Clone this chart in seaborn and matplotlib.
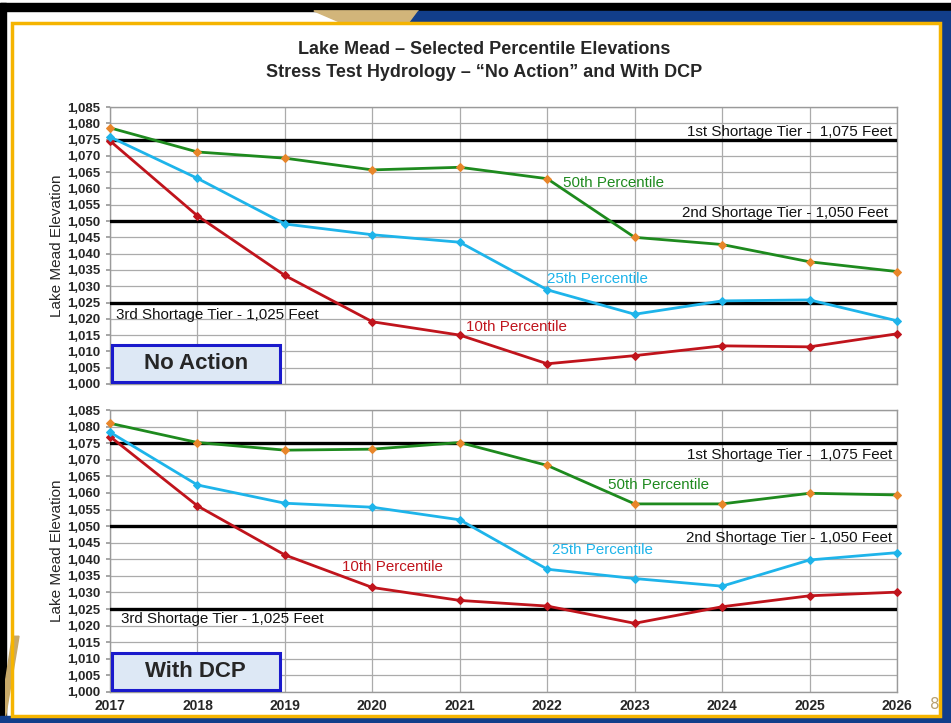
import numpy as np
import pandas as pd
import seaborn as sns
import matplotlib.pyplot as plt
from matplotlib.patches import Rectangle, Polygon
from matplotlib.ticker import FuncFormatter, MultipleLocator

# values (feet)
years = list(range(2017, 2027))
no_action_p50 = [1078.6, 1071.2, 1069.3, 1065.7, 1066.5, 1063.0, 1045.0, 1042.8, 1037.5, 1034.5]
no_action_p25 = [1075.8, 1063.1, 1049.1, 1045.8, 1043.5, 1028.9, 1021.4, 1025.5, 1025.8, 1019.4]
no_action_p10 = [1074.6, 1051.6, 1033.3, 1019.1, 1015.0, 1006.2, 1008.7, 1011.7, 1011.4, 1015.4]
dcp_p50 = [1081.0, 1075.2, 1072.9, 1073.2, 1075.2, 1068.3, 1056.7, 1056.7, 1059.9, 1059.4]
dcp_p25 = [1078.3, 1062.4, 1056.9, 1055.7, 1051.9, 1037.0, 1034.2, 1031.9, 1039.8, 1042.0]
dcp_p10 = [1077.0, 1056.1, 1041.3, 1031.5, 1027.6, 1025.9, 1020.7, 1025.7, 1029.0, 1030.1]

tiers = [1075, 1050, 1025]
tier_labels = ['1st Shortage Tier -  1,075 Feet', '2nd Shortage Tier - 1,050 Feet',
               '3rd Shortage Tier - 1,025 Feet']
percentile_labels = ['50th Percentile', '25th Percentile', '10th Percentile']

GREEN = '#1E8A1E'
ORANGE = '#E8862A'
BLUE = '#1EB4EA'
RED = '#C0141C'

sns.set_theme(style='whitegrid')
plt.rcParams['font.family'] = ['Liberation Sans Narrow', 'Liberation Sans', 'DejaVu Sans']

fig = plt.figure(figsize=(9.51, 7.23), dpi=100)
fig.patch.set_facecolor('white')

# slide decoration
fig.patches.append(Rectangle((0, 0), 0.006, 0.996, transform=fig.transFigure, color='black', zorder=0))
fig.patches.append(Rectangle((0, 0.985), 1, 0.011, transform=fig.transFigure, color='black', zorder=0))
fig.patches.append(Polygon([(0.33, 0.985), (0.44, 0.985), (0.43, 0.968), (0.36, 0.968)],
                           closed=True, transform=fig.transFigure, color='#D2B57A', zorder=0))
fig.patches.append(Polygon([(0.44, 0.985), (1, 0.985), (1, 0), (0.988, 0), (0.988, 0.968), (0.43, 0.968)],
                           closed=True, transform=fig.transFigure, color='#123E8A', zorder=0))
fig.patches.append(Polygon([(0, 0), (0.988, 0), (0.988, 0.01), (0.0, 0.01)],
                           closed=True, transform=fig.transFigure, color='#123E8A', zorder=0))
fig.patches.append(Polygon([(0.006, 0.01), (0.02, 0.12), (0.013, 0.12), (0.006, 0.06)],
                           closed=True, transform=fig.transFigure, color='#C8A968', zorder=0))
fig.patches.append(Rectangle((0.013, 0.01), 0.975, 0.958, transform=fig.transFigure,
                             fill=False, edgecolor='#F5B400', lw=2.5, zorder=1))

fig.text(0.509, 0.931, 'Lake Mead \u2013 Selected Percentile Elevations', ha='center', va='center',
         fontsize=13, fontweight='bold')
fig.text(0.509, 0.900, 'Stress Test Hydrology \u2013 \u201cNo Action\u201d and With DCP', ha='center',
         va='center', fontsize=13, fontweight='bold')
fig.text(0.983, 0.025, '8', ha='center', va='center', fontsize=11, color='#B8A070',
         family='DejaVu Sans')

ax_top = fig.add_axes([0.1157, 0.4689, 0.8275, 0.3831])
ax_bot = fig.add_axes([0.1157, 0.0429, 0.8275, 0.3900])


def draw_panel(ax, p50, p25, p10, label_pos, box_text, show_x):
    df = pd.DataFrame({'year': years * 3,
                       'elev': p50 + p25 + p10,
                       'pct': ['p50'] * 10 + ['p25'] * 10 + ['p10'] * 10})
    for key, col, mcol in [('p10', RED, RED), ('p25', BLUE, BLUE), ('p50', GREEN, ORANGE)]:
        sns.lineplot(data=df[df['pct'] == key], x='year', y='elev', ax=ax, color=col,
                     lw=2, marker='D', markersize=4, markerfacecolor=mcol,
                     markeredgecolor=mcol, clip_on=False, zorder=4, legend=False)
    for t in tiers:
        ax.axhline(t, color='black', lw=2.4, zorder=3)

    ax.set_xlim(2017, 2026)
    ax.set_ylim(1000, 1085)
    ax.yaxis.set_major_locator(MultipleLocator(5))
    ax.xaxis.set_major_locator(MultipleLocator(1))
    ax.yaxis.set_major_formatter(FuncFormatter(lambda v, p: f'{int(v):,}'))
    ax.grid(True, color='#ABABAB', lw=0.9)
    ax.set_facecolor('white')
    for s in ax.spines.values():
        s.set_color('#9A9A9A')
        s.set_linewidth(1.0)
    ax.tick_params(axis='y', labelsize=9.5, pad=4, length=3, color='#9A9A9A', left=True)
    ax.tick_params(axis='x', labelsize=10, pad=5, length=0)
    for lbl in ax.get_yticklabels():
        lbl.set_fontweight('bold')
    if show_x:
        for lbl in ax.get_xticklabels():
            lbl.set_fontweight('bold')
    else:
        ax.set_xticklabels([])
    ax.set_xlabel('')
    ax.set_ylabel('Lake Mead Elevation', fontsize=11, labelpad=2, family='Liberation Sans')

    # tier labels
    (x1, y1), (x2, y2), (x3, y3) = label_pos['tiers']
    ax.text(x1, y1, tier_labels[0], ha='right', va='center', fontsize=10.9, zorder=5,
            family='Liberation Sans', color='#111111')
    ax.text(x2, y2, tier_labels[1], ha='right', va='center', fontsize=10.9, zorder=5,
            family='Liberation Sans', color='#111111')
    ax.text(x3, y3, tier_labels[2], ha='left', va='center', fontsize=10.9, zorder=5,
            family='Liberation Sans', color='#111111')
    for (px, py), txt, col in zip(label_pos['pct'], percentile_labels, [GREEN, BLUE, RED]):
        ax.text(px, py, txt, ha='left', va='center', fontsize=10.9, color=col, zorder=5,
                family='Liberation Sans')

    box = Rectangle((2017.02, 1000.5), 1.92, 11.4, facecolor='#DDE8F5', edgecolor='#1A1ACC',
                    lw=2.2, zorder=5)
    ax.add_patch(box)
    ax.text(2017.98, 1006.2, box_text, ha='center', va='center', fontsize=16,
            fontweight='bold', zorder=6, family='Liberation Sans')


draw_panel(ax_top, no_action_p50, no_action_p25, no_action_p10,
           {'tiers': [(2025.95, 1077.3), (2025.9, 1052.4), (2017.07, 1021.3)],
            'pct': [(2022.18, 1061.6), (2022.0, 1032.2), (2021.07, 1017.4)]},
           'No Action', show_x=False)
draw_panel(ax_bot, dcp_p50, dcp_p25, dcp_p10,
           {'tiers': [(2025.95, 1071.4), (2025.95, 1046.5), (2017.12, 1022.0)],
            'pct': [(2022.69, 1062.4), (2022.05, 1042.8), (2019.65, 1037.7)]},
           'With DCP', show_x=True)

fig.savefig('out.png', dpi=100, facecolor=fig.get_facecolor())
